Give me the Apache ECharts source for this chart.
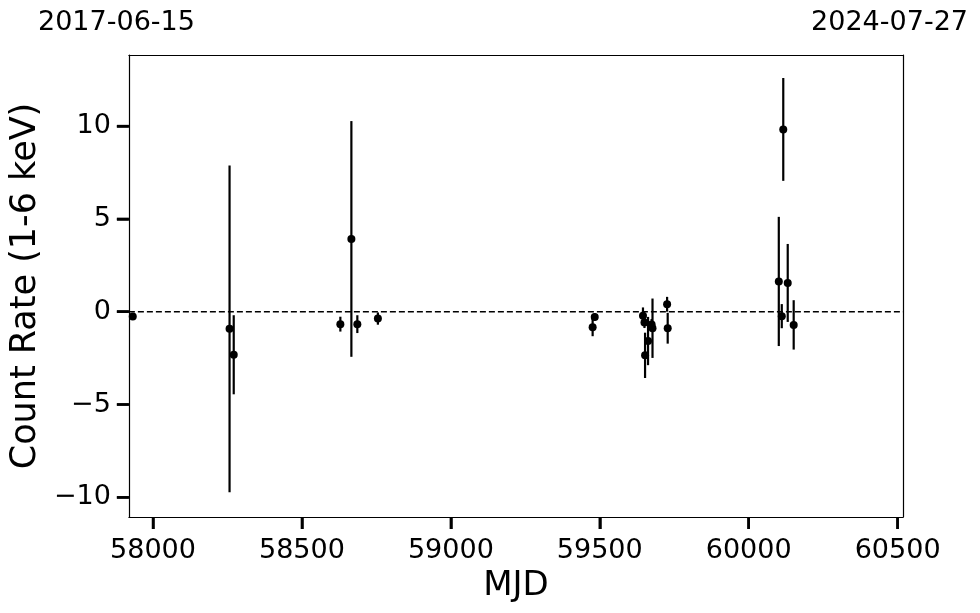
<!DOCTYPE html>
<html>
<head>
<meta charset="utf-8">
<script src="https://cdn.jsdelivr.net/npm/echarts@6/dist/echarts.min.js"></script>
<style>
html,body{margin:0;padding:0;background:#fff;}
#chart{width:980px;height:613px;background:#fff;}
</style>
</head>
<body>
<div id="chart"></div>
<script>
// ---- data ----
const mjd  = [57932, 58257, 58271, 58629, 58666, 58686, 58755, 59476, 59483, 59645, 59650, 59652, 59662, 59674, 59677, 59726, 59728, 60101, 60111, 60116, 60131, 60151];
const rate = [-0.26, -0.92, -2.32, -0.67, 3.92, -0.67, -0.37, -0.84, -0.28, -0.22, -0.58, -2.35, -1.58, -0.69, -0.89, 0.40, -0.89, 1.63, -0.24, 9.82, 1.55, -0.71];
const err  = [0.10, 8.80, 2.13, 0.40, 6.35, 0.48, 0.33, 0.48, 0.20, 0.45, 0.30, 1.22, 1.30, 0.30, 1.60, 0.40, 0.83, 3.48, 0.65, 2.77, 2.10, 1.33];
const xTicks = [58000, 58500, 59000, 59500, 60000, 60500];
const yTicks = [-10, -5, 0, 5, 10];
const xRange = [57919, 60518];
const yRange = [-11.06, 13.83];
const topDates = ['2017-06-15', '2024-07-27'];
const xTitle = 'MJD';
const yTitle = 'Count Rate (1-6 keV)';

const points = mjd.map((m, i) => [m, rate[i]]);
const bars = mjd.map((m, i) => [m, rate[i] - err[i], rate[i] + err[i]]);
const xTickMarks = xTicks.map(v => [v, yRange[0]]);
const yTickMarks = yTicks.map(v => [xRange[0], v]);

const FONT = 'DejaVu Sans';
const TICK_LEN = 12, TICK_W = 2.5;
const frameAxis = {
  axisLine: {show: true, onZero: false, lineStyle: {color: '#000', width: 1.2}},
  axisTick: {show: false}, axisLabel: {show: false}, splitLine: {show: false}
};
function tickSeries(data, horizontal) {
  return {
    type: 'custom', data: data, clip: false, silent: true, z: 10, zlevel: 1,
    renderItem: function (params, api) {
      const p = api.coord([api.value(0), api.value(1)]);
      const shape = horizontal
        ? {x1: p[0] - TICK_LEN, y1: p[1], x2: p[0], y2: p[1]}
        : {x1: p[0], y1: p[1], x2: p[0], y2: p[1] + TICK_LEN};
      return {type: 'line', shape: shape, style: {stroke: '#000', lineWidth: TICK_W}};
    }
  };
}
const chart = echarts.init(document.getElementById('chart'), null, {renderer: 'canvas'});
chart.setOption({
  animation: false,
  grid: {left: 128, right: 77, top: 55, bottom: 96},
  xAxis: [{
    type: 'value', min: xRange[0], max: xRange[1], position: 'bottom',
    name: xTitle, nameLocation: 'middle', nameGap: 52,
    nameTextStyle: {fontFamily: FONT, fontSize: 34, color: '#000'},
    axisLine: {show: true, onZero: false, lineStyle: {color: '#000', width: 1.2}},
    axisTick: {show: true, interval: 0, customValues: xTicks, length: TICK_LEN, lineStyle: {color: '#000', width: TICK_W}},
    axisLabel: {interval: 0, customValues: xTicks, margin: 20, fontFamily: FONT, fontSize: 27, color: '#000', formatter: v => String(v)},
    splitLine: {show: false}
  }, Object.assign({type: 'value', min: xRange[0], max: xRange[1], position: 'top'}, frameAxis)],
  yAxis: [{
    type: 'value', min: yRange[0], max: yRange[1], position: 'left',
    name: yTitle, nameLocation: 'middle', nameGap: 82, nameRotate: 90,
    nameTextStyle: {fontFamily: FONT, fontSize: 35, color: '#000'},
    axisLine: {show: true, onZero: false, lineStyle: {color: '#000', width: 1.2}},
    axisTick: {show: true, interval: 0, customValues: yTicks, length: TICK_LEN, lineStyle: {color: '#000', width: TICK_W}},
    axisLabel: {interval: 0, customValues: yTicks, margin: 18, fontFamily: FONT, fontSize: 27, color: '#000',
      formatter: v => (v < 0 ? '\u2212' + Math.abs(v) : String(v))},
    splitLine: {show: false}
  }, Object.assign({type: 'value', min: yRange[0], max: yRange[1], position: 'right'}, frameAxis)],
  graphic: [
    {type: 'text', left: 38, top: 9, style: {text: topDates[0], font: '27px "DejaVu Sans"', fill: '#000'}},
    {type: 'text', right: 12, top: 9, style: {text: topDates[1], font: '27px "DejaVu Sans"', fill: '#000'}}
  ],
  series: [
    {
      type: 'line', data: [[xRange[0], 0], [xRange[1], 0]], symbol: 'none', silent: true,
      lineStyle: {color: '#000', width: 1.5, type: [6, 3]}, z: 1
    },
    {
      type: 'custom', data: bars, z: 2, silent: true,
      renderItem: function (params, api) {
        const p1 = api.coord([api.value(0), api.value(1)]);
        const p2 = api.coord([api.value(0), api.value(2)]);
        return {type: 'line', shape: {x1: p1[0], y1: p1[1], x2: p2[0], y2: p2[1]},
          style: {stroke: '#000', lineWidth: 2.2}};
      }
    },
    {
      type: 'scatter', data: points, symbol: 'circle', symbolSize: 8, z: 3,
      itemStyle: {color: '#000', opacity: 1}
    },
    tickSeries(xTickMarks, false),
    tickSeries(yTickMarks, true)
  ]
});
</script>
</body>
</html>
